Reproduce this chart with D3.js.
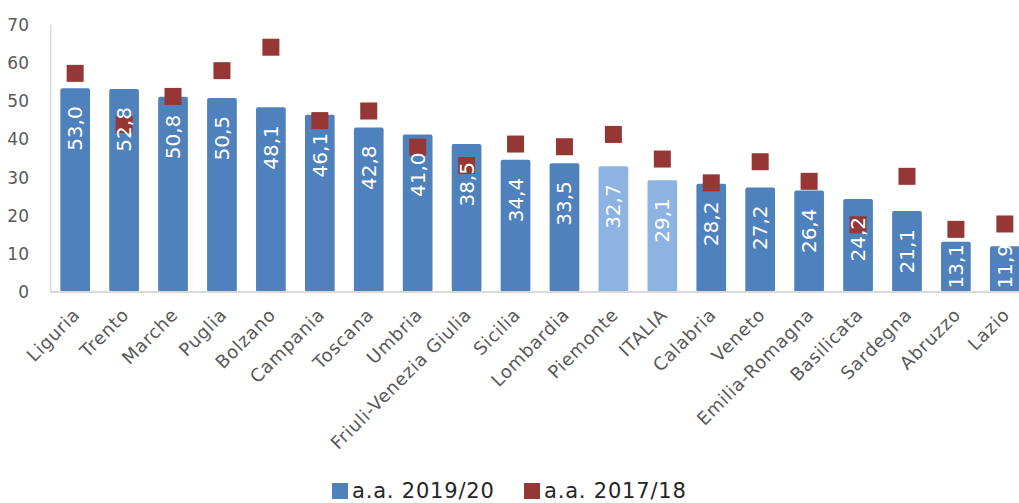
<!DOCTYPE html>
<html>
<head>
<meta charset="utf-8">
<script src="https://cdn.jsdelivr.net/npm/d3@7"></script>
<style>
  body { margin: 0; background: #fff; overflow: hidden; }
  svg { display: block; font-family: "DejaVu Sans", sans-serif; }
</style>
</head>
<body>
<div id="chart"></div>
<script>
// regioni, ordinate per valore a.a. 2019/20
var regioni = ["Liguria", "Trento", "Marche", "Puglia", "Bolzano", "Campania", "Toscana", "Umbria",
  "Friuli-Venezia Giulia", "Sicilia", "Lombardia", "Piemonte", "ITALIA", "Calabria", "Veneto",
  "Emilia-Romagna", "Basilicata", "Sardegna", "Abruzzo", "Lazio"];
var aa2019 = [53.0, 52.8, 50.8, 50.5, 48.1, 46.1, 42.8, 41.0, 38.5, 34.4, 33.5, 32.7, 29.1, 28.2, 27.2,
  26.4, 24.2, 21.1, 13.1, 11.9];
var aa2017 = [56.9, 43.6, 50.9, 57.6, 63.7, 44.6, 47.1, 37.7, 32.9, 38.5, 37.8, 41.0, 34.6, 28.4, 33.9,
  28.8, 17.5, 30.1, 16.3, 17.7];
var evidenziate = ["Piemonte", "ITALIA"];
var yTicks = [0, 10, 20, 30, 40, 50, 60, 70];
var legenda = ["a.a. 2019/20", "a.a. 2017/18"];

(function() {
  var width = 1019, height = 503;
  var blu = "#4f81bd", bluChiaro = "#8db3e2", rosso = "#953735", grigio = "#595959";

  var data = regioni.map(function(r, i) {
    return { regione: r, nuovo: aa2019[i], vecchio: aa2017[i] };
  });

  var svg = d3.select("#chart").append("svg")
              .attr("width", width)
              .attr("height", height);

  var x = d3.scaleBand().domain(regioni).range([50.7, 50.7 + 20 * 48.93])
            .paddingInner(0.393).paddingOuter(0.1965);
  var y = d3.scaleLinear().domain([0, 70]).range([292, 23]);

  // assi
  svg.append("line")
     .attr("x1", 50.7).attr("x2", 50.7).attr("y1", 25).attr("y2", y(0))
     .style("stroke", "#d9d9d9").style("stroke-width", 1.5);

  svg.selectAll(".ytick")
     .data(yTicks)
     .enter().append("text")
     .attr("class", "ytick")
     .attr("x", 29)
     .attr("y", function(d) { return y(d) + (d / 70) * 2; })
     .attr("dy", "0.35em")
     .attr("text-anchor", "end")
     .style("font-size", "17px")
     .style("fill", grigio)
     .text(function(d) { return d; });

  // barre
  svg.selectAll(".bar")
     .data(data)
     .enter().append("rect")
     .attr("class", "bar")
     .attr("x", function(d) { return x(d.regione); })
     .attr("y", function(d) { return y(d.nuovo); })
     .attr("width", x.bandwidth())
     .attr("height", function(d) { return y(0) - y(d.nuovo); })
     .attr("rx", 2)
     .attr("fill", function(d) {
       return evidenziate.indexOf(d.regione) >= 0 ? bluChiaro : blu;
     });

  svg.append("line")
     .attr("x1", 50.7).attr("x2", width).attr("y1", y(0)).attr("y2", y(0))
     .style("stroke", "#d9d9d9").style("stroke-width", 2);

  // quadrati 2017/18
  var sq = 17;
  svg.selectAll(".punto")
     .data(data)
     .enter().append("rect")
     .attr("class", "punto")
     .attr("x", function(d) { return x(d.regione) + x.bandwidth() / 2 - sq / 2; })
     .attr("y", function(d) { return y(d.vecchio) - sq / 2; })
     .attr("width", sq).attr("height", sq)
     .attr("fill", rosso);

  // etichette dentro le barre (bianco su bianco se escono)
  var fmt = function(v) { return v.toFixed(1).replace(".", ","); };
  svg.selectAll(".etichetta")
     .data(data)
     .enter().append("text")
     .attr("class", "etichetta")
     .attr("transform", function(d) {
       var cx = x(d.regione) + x.bandwidth() / 2;
       var top = Math.min(y(d.nuovo) + 18, y(0) - 48);
       return "translate(" + (cx + 7) + "," + top + ") rotate(-90)";
     })
     .attr("text-anchor", "end")
     .style("font-size", "20px")
     .style("fill", "#fff")
     .text(function(d) { return fmt(d.nuovo); });

  // etichette asse x
  svg.selectAll(".xlab")
     .data(regioni)
     .enter().append("text")
     .attr("class", "xlab")
     .attr("transform", function(d) {
       return "translate(" + (x(d) + x.bandwidth() / 2 + 6) + ",316) rotate(-45)";
     })
     .attr("text-anchor", "end")
     .style("font-size", "18px")
     .style("letter-spacing", "0.7px")
     .style("fill", grigio)
     .text(function(d) { return d; });

  // legenda
  var legX = [332, 524];
  var leg = svg.selectAll(".leg")
     .data(legenda)
     .enter().append("g")
     .attr("class", "leg")
     .attr("transform", function(d, i) { return "translate(" + legX[i] + ",483)"; });
  leg.append("rect")
     .attr("width", 16).attr("height", 16)
     .attr("fill", function(d, i) { return i === 0 ? blu : rosso; });
  leg.append("text")
     .attr("x", 20).attr("y", 15)
     .style("font-size", "21px")
     .style("letter-spacing", "0.8px")
     .style("fill", "#262626")
     .text(function(d) { return d; });
})();
</script>
</body>
</html>
